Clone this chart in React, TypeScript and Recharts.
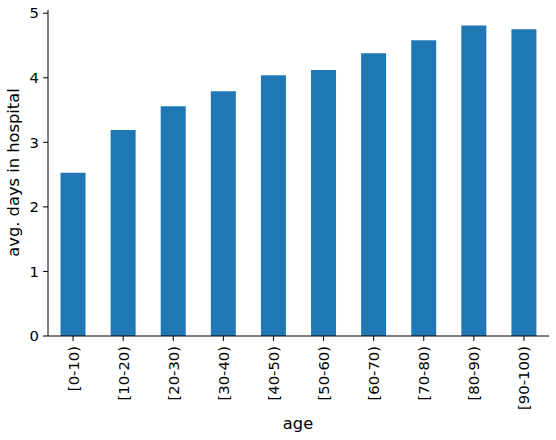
import React from "react";
import { BarChart, Bar, XAxis, YAxis, Label } from "recharts";

const AGE_GROUPS = [
  "[0-10)",
  "[10-20)",
  "[20-30)",
  "[30-40)",
  "[40-50)",
  "[50-60)",
  "[60-70)",
  "[70-80)",
  "[80-90)",
  "[90-100)",
];
const AVG_DAYS = [2.53, 3.19, 3.56, 3.79, 4.04, 4.12, 4.38, 4.58, 4.81, 4.75];
const Y_TICKS = [0, 1, 2, 3, 4, 5];

const FONT = "DejaVu Sans, sans-serif";
const TICK_SIZE = 14.8;
const LABEL_SIZE = 16.3;

const data = AGE_GROUPS.map((age, i) => ({ age, days: AVG_DAYS[i] }));

function AgeTick({ x, y, payload }: { x?: number; y?: number; payload?: { value: string } }) {
  return (
    <g transform={`translate(${x},${y})`}>
      <text
        transform="rotate(-90)"
        x={0}
        y={0}
        textAnchor="end"
        dominantBaseline="central"
        fontFamily={FONT}
        fontSize={TICK_SIZE}
        fill="#000"
      >
        {payload?.value}
      </text>
    </g>
  );
}

export default function App() {
  return (
    <div style={{ position: "absolute", left: 0, top: 0, width: 556, height: 440, background: "#fff" }}>
      <BarChart
        width={556}
        height={440}
        data={data}
        margin={{ top: 10, right: 7, bottom: 0, left: 0 }}
        barCategoryGap="25%"
      >
        <XAxis
          dataKey="age"
          height={104}
          stroke="#000"
          tickSize={5}
          tickMargin={5}
          tick={<AgeTick />}
          interval={0}
          tickLine={{ stroke: "#000" }}
        >
          <Label
            content={() => (
              <text x={298} y={428.5} textAnchor="middle" fontFamily={FONT} fontSize={LABEL_SIZE} fill="#000">
                age
              </text>
            )}
          />
        </XAxis>
        <YAxis
          width={48}
          domain={[0, 5.05]}
          ticks={Y_TICKS}
          stroke="#000"
          tickSize={5}
          tickMargin={4}
          tick={{ fontFamily: FONT, fontSize: TICK_SIZE, fill: "#000" }}
          tickLine={{ stroke: "#000" }}
        >
          <Label
            content={() => (
              <text
                transform="translate(19,172.5) rotate(-90)"
                textAnchor="middle"
                fontFamily={FONT}
                fontSize={LABEL_SIZE}
                fill="#000"
              >
                avg. days in hospital
              </text>
            )}
          />
        </YAxis>
        <Bar dataKey="days" fill="#1f77b4" isAnimationActive={false} />
      </BarChart>
    </div>
  );
}
